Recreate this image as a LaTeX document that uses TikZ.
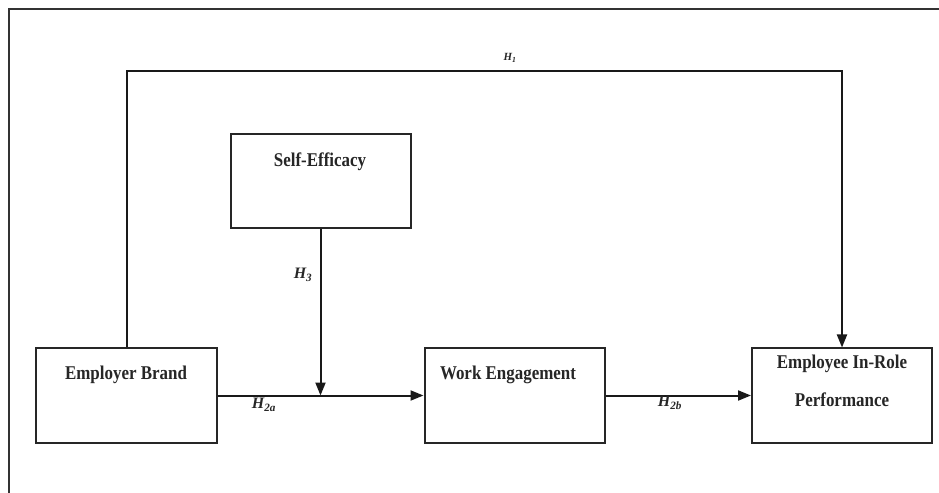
\documentclass[tikz,border=0pt]{standalone}
\usepackage{fontspec}
\setmainfont{Liberation Serif}
\usetikzlibrary{arrows.meta}
\tikzset{
  box/.style={draw=black!85, line width=2bp, minimum width=180bp, minimum height=94bp, inner sep=0pt},
  boxtext/.style={font=\fontsize{17}{33}\selectfont\bfseries, text=black!85, align=center, inner sep=0pt, yscale=1.15, transform shape},
  hyp/.style={font=\fontsize{16}{18}\selectfont\bfseries\itshape, text=black!85, inner sep=0pt},
  link/.style={draw=black!90, line width=2bp},
  arr/.style={link, -{Triangle[length=13bp,width=10bp]}},
  frame/.style={draw=black!80, line width=2.2bp}
}
\begin{document}
\begin{tikzpicture}[x=1bp,y=-1bp]
\useasboundingbox (0,0) rectangle (939,493);
\fill[white] (0,0) rectangle (939,493);
% outer frame (top and left edges visible)
\coordinate (ftl) at (9,9);
\coordinate (ftr) at (939,9);
\coordinate (fbl) at (9,493);
\draw[frame] (ftr) -- (ftl) -- (fbl);
% boxes
\node[box] (eb) at (126.5,395.5) {};
\node[box] (se) at (320.5,181.5) {};
\node[box] (we) at (514.5,395.5) {};
\node[box] (eip) at (842,395.5) {};
% box texts
\node[boxtext] (ebt) at (126,375) {Employer Brand};
\node[boxtext] (set) at (320,162) {Self-Efficacy};
\node[boxtext] (wet) at (508,375) {Work Engagement};
\node[boxtext] (eipt) at (842,381) {Employee In-Role\\Performance};
% connectors
\draw[arr] (eb.east) -- (we.west);
\coordinate (j) at (se.south |- eb.east);
\draw[arr] (se.south) -- (j);
\draw[arr] (we.east) -- (eip.west);
\coordinate (topl) at (126.5,71);
\draw[arr] (eb.north) -- (topl) -| (eip.north);
% hypothesis labels
\node[hyp, font=\fontsize{11}{12}\selectfont\bfseries\itshape] (h1) at (510,58) {H\textsubscript{1}};
\node[hyp] (h3) at (303,275) {H\textsubscript{3}};
\node[hyp] (h2a) at (264,405) {H\textsubscript{2a}};
\node[hyp] (h2b) at (670,403) {H\textsubscript{2b}};
\end{tikzpicture}
\end{document}
